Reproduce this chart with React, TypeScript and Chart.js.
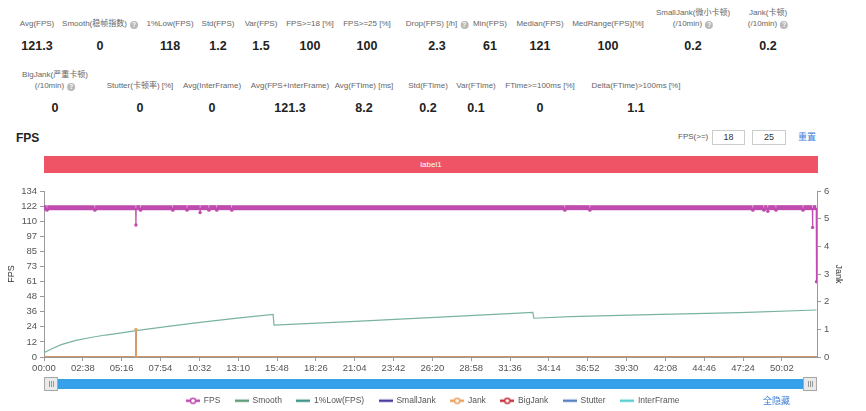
import React, { useEffect, useRef } from "react";
import { Chart, registerables } from "chart.js";
Chart.register(...registerables);

const FONT = '"Liberation Sans", "Noto Sans CJK SC", Arial, sans-serif';

// ---- summary stats ----
const statLabels1 = ["Avg(FPS)", "Smooth(稳帧指数)", "1%Low(FPS)", "Std(FPS)", "Var(FPS)", "FPS>=18 [%]", "FPS>=25 [%]", "Drop(FPS) [/h]", "Min(FPS)", "Median(FPS)", "MedRange(FPS)[%]", "SmallJank(微小卡顿)\n(/10min)", "Jank(卡顿)\n(/10min)"];
const statValues1 = ["121.3", "0", "118", "1.2", "1.5", "100", "100", "2.3", "61", "121", "100", "0.2", "0.2"];
const statHelp1 = [false, true, false, false, false, false, false, true, false, false, false, true, true];
const statLabels2 = ["BigJank(严重卡顿)\n(/10min)", "Stutter(卡顿率) [%]", "Avg(InterFrame)", "Avg(FPS+InterFrame)", "Avg(FTime) [ms]", "Std(FTime)", "Var(FTime)", "FTime>=100ms [%]", "Delta(FTime)>100ms [%]"];
const statValues2 = ["0", "0", "0", "121.3", "8.2", "0.2", "0.1", "0", "1.1"];
const statHelp2 = [true, false, false, false, false, false, false, false, false];
const statX1 = [37, 100, 170, 218, 261, 310, 367, 437, 490, 540, 608, 693, 768];
const statX2 = [55, 140, 212, 290, 364, 428, 476, 540, 636];

// ---- axes ----
const X_MAX = 3145; // seconds
const X_STEP = 158;
const xTickLabels = ["00:00", "02:38", "05:16", "07:54", "10:32", "13:10", "15:48", "18:26", "21:04", "23:42", "26:20", "28:58", "31:36", "34:14", "36:52", "39:30", "42:08", "44:46", "47:24", "50:02"];
const Y_LEFT_MAX = 134.5;
const yLeftTickLabels = ["0", "12", "24", "36", "48", "61", "73", "85", "97", "110", "122", "134"];
const Y_RIGHT_MAX = 6;

// ---- series (time in seconds) ----
const fpsTime = [0, 11, 12, 13, 206, 207, 208, 373, 374, 375, 392, 393, 394, 523, 524, 525, 581, 582, 583, 634, 635, 636, 670, 671, 672, 702, 703, 704, 763, 764, 765, 2118, 2119, 2120, 2220, 2221, 2222, 2883, 2884, 2885, 2928, 2929, 2930, 2944, 2945, 2946, 2977, 2978, 2979, 3087, 3088, 3089, 3126, 3127, 3128, 3142, 3143];
const fpsValue = [121, 121, 119, 121, 121, 119, 121, 121, 107, 121, 121, 119, 121, 121, 119, 121, 121, 119, 121, 121, 117, 121, 121, 119, 121, 121, 119, 121, 121, 119, 121, 121, 119, 121, 121, 119, 121, 121, 119, 121, 121, 119, 121, 121, 118, 121, 121, 119, 121, 121, 119, 121, 121, 105, 121, 121, 61];

const lowTime = [0, 30, 70, 130, 190, 250, 309, 374, 513, 635, 777, 932, 936, 1245, 1652, 1989, 1993, 2140, 2465, 2831, 3143];
const lowValue = [3.5, 6.5, 10, 13.5, 15.8, 17.8, 19.4, 21.3, 25, 28, 31.3, 34.6, 25.9, 28.6, 32.7, 36.2, 31.4, 32.7, 34.3, 35.9, 38.1];

const zeroTime = [0, 3143];
const zeroValue = [0, 0];

const jankTime = [0, 373, 374, 375, 3143];
const jankValue = [0, 0, 1, 0, 0];
const smallJankTime = [0, 373, 374, 375, 3143];
const smallJankValue = [0, 0, 1, 0, 0];

const COLORS = {
  fps: "#bf4bae",
  smooth: "#5f9c78",
  low: "#3f968a",
  lowLine: "#78b3a4",
  smallJank: "#4b3f9e",
  jank: "#eba15f",
  bigJank: "#c9343f",
  stutter: "#5a80c2",
  inter: "#5ccfd0",
};

const CANVAS_H = 235;
const AREA_BOTTOM = 177;

function pts(t: number[], v: number[]) {
  return t.map((x, i) => ({ x, y: v[i] }));
}

function makeIcon(color: string, dot: boolean) {
  const c = document.createElement("canvas");
  c.width = 14;
  c.height = 8;
  const g = c.getContext("2d")!;
  g.strokeStyle = color;
  g.lineWidth = 2.5;
  g.beginPath();
  g.moveTo(0, 4);
  g.lineTo(14, 4);
  g.stroke();
  if (dot) {
    g.fillStyle = "#fff";
    g.lineWidth = 1.5;
    g.beginPath();
    g.arc(7, 4, 2.6, 0, Math.PI * 2);
    g.fill();
    g.stroke();
  }
  return c;
}

const sliderPlugin = {
  id: "slider",
  afterDraw(chart: any) {
    const { ctx, chartArea } = chart;
    const { left, right } = chartArea;
    const y = 199;
    const h = 10;
    ctx.save();
    ctx.fillStyle = "#36a1e8";
    ctx.fillRect(left, y, right - left, h);
    const handle = (x: number) => {
      ctx.fillStyle = "#e9e9e9";
      ctx.strokeStyle = "#a8a8a8";
      ctx.lineWidth = 1;
      ctx.fillRect(x, y - 2, 14, h + 4);
      ctx.strokeRect(x + 0.5, y - 1.5, 13, h + 3);
      ctx.strokeStyle = "#999";
      for (let k = 0; k < 3; k++) {
        ctx.beginPath();
        ctx.moveTo(x + 5 + k * 2 + 0.5, y + 2);
        ctx.lineTo(x + 5 + k * 2 + 0.5, y + h - 2);
        ctx.stroke();
      }
    };
    handle(left);
    handle(right - 14);
    ctx.restore();
  },
};

function Help() {
  return (
    <span
      style={{
        display: "inline-block",
        width: 8,
        height: 8,
        borderRadius: "50%",
        background: "#b8b8b8",
        color: "#fff",
        fontSize: 6.5,
        lineHeight: "8px",
        textAlign: "center",
        marginLeft: 3,
        verticalAlign: "-1px",
        fontWeight: 700,
      }}
    >
      ?
    </span>
  );
}

function StatRow(props: { labels: string[]; values: string[]; help: boolean[]; xs: number[]; labelTop: number; labelH: number; valueTop: number }) {
  const { labels, values, help, xs, labelTop, labelH, valueTop } = props;
  return (
    <>
      {labels.map((lab, i) => {
        const lines = lab.split("\n");
        return (
          <React.Fragment key={i}>
            <div
              style={{
                position: "absolute",
                left: xs[i],
                top: labelTop,
                height: labelH,
                transform: "translateX(-50%)",
                display: "flex",
                flexDirection: "column",
                justifyContent: "flex-end",
                alignItems: "center",
                fontSize: 8,
                lineHeight: "10.6px",
                color: "#666",
                whiteSpace: "nowrap",
              }}
            >
              {lines.map((ln, j) => (
                <div key={j}>
                  {ln}
                  {help[i] && j === lines.length - 1 ? <Help /> : null}
                </div>
              ))}
            </div>
            <div
              style={{
                position: "absolute",
                left: xs[i],
                top: valueTop,
                transform: "translateX(-50%)",
                fontSize: 12.5,
                lineHeight: "16px",
                fontWeight: 700,
                color: "#222",
                whiteSpace: "nowrap",
              }}
            >
              {values[i]}
            </div>
          </React.Fragment>
        );
      })}
    </>
  );
}

export default function App() {
  const ref = useRef<HTMLCanvasElement>(null);

  useEffect(() => {
    const canvas = ref.current!;
    const base = { pointRadius: 0, pointHoverRadius: 0, pointBorderWidth: 0, borderWidth: 1, tension: 0, fill: false };
    const chart = new Chart(canvas, {
      type: "line",
      data: {
        datasets: [
          {
            ...base,
            label: "FPS",
            data: pts(fpsTime, fpsValue),
            borderColor: COLORS.fps,
            backgroundColor: COLORS.fps,
            legendColor: COLORS.fps,
            yAxisID: "y",
            order: 0,
            borderWidth: 5,
            pointRadius: (c: any) => (c.raw && c.raw.y < 121 ? 1.7 : 0),
            segment: {
              borderWidth: (c: any) => (c.p0.parsed.y < 121 || c.p1.parsed.y < 121 ? 1.2 : 5),
            },
          },
          { ...base, label: "Smooth", data: pts(zeroTime, zeroValue), borderColor: COLORS.smooth, backgroundColor: COLORS.smooth, legendColor: COLORS.smooth, yAxisID: "y", order: 4 },
          { ...base, label: "1%Low(FPS)", data: pts(lowTime, lowValue), borderColor: COLORS.lowLine, backgroundColor: COLORS.low, legendColor: COLORS.low, yAxisID: "y", order: 2, borderWidth: 1.2 },
          { ...base, label: "SmallJank", data: pts(smallJankTime, smallJankValue), borderColor: COLORS.smallJank, backgroundColor: COLORS.smallJank, legendColor: COLORS.smallJank, yAxisID: "y1", order: 5 },
          {
            ...base,
            label: "Jank",
            data: pts(jankTime, jankValue),
            borderColor: COLORS.jank,
            backgroundColor: COLORS.jank,
            legendColor: COLORS.jank,
            yAxisID: "y1",
            order: 1,
            borderWidth: 1.6,
            pointRadius: (c: any) => (c.raw && c.raw.y > 0 ? 1.5 : 0),
          },
          { ...base, label: "BigJank", data: pts(zeroTime, zeroValue), borderColor: COLORS.bigJank, backgroundColor: COLORS.bigJank, legendColor: COLORS.bigJank, yAxisID: "y1", order: 6 },
          { ...base, label: "Stutter", data: pts(zeroTime, zeroValue), borderColor: COLORS.stutter, backgroundColor: COLORS.stutter, legendColor: COLORS.stutter, yAxisID: "y", order: 7 },
          { ...base, label: "InterFrame", data: pts(zeroTime, zeroValue), borderColor: COLORS.inter, backgroundColor: COLORS.inter, legendColor: COLORS.inter, yAxisID: "y", order: 8 },
        ] as any,
      },
      options: {
        animation: false,
        responsive: false,
        events: [],
        font: { family: FONT },
        layout: { padding: { top: 11, left: 0, right: 0, bottom: 0 } },
        plugins: {
          tooltip: { enabled: false },
          legend: {
            position: "bottom",
            labels: {
              usePointStyle: true,
              pointStyleWidth: 13,
              padding: 15,
              color: "#555",
              font: { size: 8.5, family: FONT },
              sort: (a: any, b: any) => a.datasetIndex - b.datasetIndex,
              generateLabels: (ch: any) => {
                const dotted = ["FPS", "Jank", "BigJank"];
                return ch.data.datasets.map((ds: any, i: number) => ({
                  text: ds.label,
                  datasetIndex: i,
                  hidden: false,
                  fillStyle: ds.legendColor,
                  strokeStyle: ds.legendColor,
                  lineWidth: 0,
                  fontColor: "#555",
                  pointStyle: makeIcon(ds.legendColor, dotted.includes(ds.label)),
                }));
              },
            },
          },
        },
        scales: {
          x: {
            type: "linear",
            min: 0,
            max: X_MAX,
            afterBuildTicks: (s: any) => {
              s.ticks = xTickLabels.map((_, i) => ({ value: i * X_STEP }));
            },
            afterFit: (s: any) => {
              const lh = s.chart.legend ? s.chart.legend.height : 0;
              s.height = CANVAS_H - AREA_BOTTOM - lh;
            },
            ticks: {
              autoSkip: false,
              maxRotation: 0,
              padding: 2,
              color: "#555",
              font: { size: 9.5, family: FONT },
              callback: (_v: any, i: number) => xTickLabels[i],
            },
            grid: { drawOnChartArea: false, tickLength: 4, color: "#9a9a9a" },
            border: { color: "#9a9a9a" },
          },
          y: {
            position: "left",
            min: 0,
            max: Y_LEFT_MAX,
            afterBuildTicks: (s: any) => {
              s.ticks = yLeftTickLabels.map((_, i) => ({ value: (i * Y_LEFT_MAX) / (yLeftTickLabels.length - 1) }));
            },
            afterFit: (s: any) => {
              s.width = 44;
            },
            title: { display: true, text: "FPS", color: "#333", padding: { top: 6, bottom: 0 }, font: { size: 9, family: FONT } },
            ticks: {
              autoSkip: false,
              padding: 3,
              color: "#555",
              font: { size: 9.5, family: FONT },
              callback: (_v: any, i: number) => yLeftTickLabels[i],
            },
            grid: { drawOnChartArea: false, tickLength: 4, color: "#9a9a9a" },
            border: { color: "#9a9a9a" },
          },
          y1: {
            position: "right",
            min: 0,
            max: Y_RIGHT_MAX,
            afterFit: (s: any) => {
              s.width = 49;
            },
            title: { display: true, text: "Jank", color: "#333", padding: { top: 22, bottom: 0 }, font: { size: 9, family: FONT } },
            ticks: { stepSize: 1, padding: 3, color: "#555", font: { size: 9.5, family: FONT } },
            grid: { drawOnChartArea: false, tickLength: 4, color: "#9a9a9a" },
            border: { color: "#9a9a9a" },
          },
        },
      } as any,
      plugins: [sliderPlugin],
    });
    return () => chart.destroy();
  }, []);

  return (
    <div style={{ position: "absolute", left: 0, top: 0, width: 866, height: 411, overflow: "hidden", background: "#fff", fontFamily: FONT }}>
      <StatRow labels={statLabels1} values={statValues1} help={statHelp1} xs={statX1} labelTop={0} labelH={29.5} valueTop={38} />
      <StatRow labels={statLabels2} values={statValues2} help={statHelp2} xs={statX2} labelTop={60} labelH={31.5} valueTop={100} />

      <div style={{ position: "absolute", left: 16, top: 131, fontSize: 12, fontWeight: 700, color: "#222", lineHeight: "14px" }}>FPS</div>
      <div style={{ position: "absolute", left: 678, top: 132, fontSize: 8, color: "#555", lineHeight: "10px" }}>FPS(&gt;=)</div>
      <div style={{ position: "absolute", left: 712, top: 130, width: 33, height: 15, boxSizing: "border-box", border: "1px solid #ccc", fontSize: 9, color: "#333", textAlign: "center", lineHeight: "13px" }}>18</div>
      <div style={{ position: "absolute", left: 752, top: 130, width: 34, height: 15, boxSizing: "border-box", border: "1px solid #ccc", fontSize: 9, color: "#333", textAlign: "center", lineHeight: "13px" }}>25</div>
      <div style={{ position: "absolute", left: 798, top: 132, fontSize: 9, color: "#3d7fd9", lineHeight: "10px" }}>重置</div>

      <div style={{ position: "absolute", left: 44, top: 156, width: 774, height: 17, background: "#ee5466", color: "#fff", fontSize: 8, textAlign: "center", lineHeight: "17px" }}>label1</div>

      <div style={{ position: "absolute", left: 0, top: 180, width: 866, height: CANVAS_H }}>
        <canvas ref={ref} width={866} height={CANVAS_H} style={{ width: 866, height: CANVAS_H, display: "block" }} />
      </div>

      <div style={{ position: "absolute", left: 763, top: 396, fontSize: 9, color: "#3d7fd9", lineHeight: "10px" }}>全隐藏</div>
    </div>
  );
}
